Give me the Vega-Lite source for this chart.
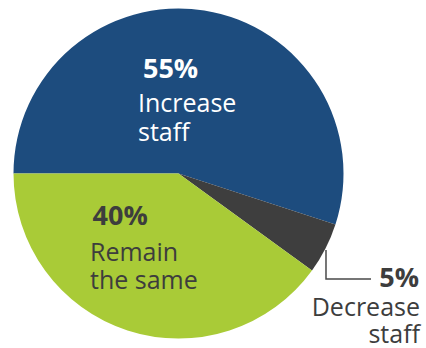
{
  "$schema": "https://vega.github.io/schema/vega-lite/v6.json",
  "width": 357,
  "height": 347,
  "autosize": "none",
  "padding": {"left": 0, "top": 0, "right": 69, "bottom": 1},
  "background": "white",
  "config": {"view": {"stroke": null}},
  "datasets": {
    "slices": [
      {"slice": "Increase staff", "pct": 55, "ord": 1},
      {"slice": "Decrease staff", "pct": 5, "ord": 2},
      {"slice": "Remain the same", "pct": 40, "ord": 3}
    ],
    "labels": [
      {"slice": "Increase staff", "pctText": "55%", "label": "Increase\nstaff", "px": -0.2152, "py": 0.5788, "lx": -0.2455, "ly": 0.3697},
      {"slice": "Remain the same", "pctText": "40%", "label": "Remain\nthe same", "px": -0.5212, "py": -0.3121, "lx": -0.5364, "ly": -0.5273},
      {"slice": "Decrease staff", "pctText": "5%", "label": "Decrease\nstaff", "px": 1.4576, "py": -0.6879, "lx": 1.4636, "ly": -0.8636}
    ],
    "leader": [
      {"i": 1, "x": 0.8939, "y": -0.4636},
      {"i": 2, "x": 0.8939, "y": -0.6394},
      {"i": 3, "x": 1.1667, "y": -0.6394}
    ]
  },
  "layer": [
    {
      "data": {"name": "slices"},
      "mark": {"type": "arc", "outerRadius": 165},
      "encoding": {
        "theta": {"field": "pct", "type": "quantitative", "stack": true, "scale": {"range": [4.712389, 10.995574]}},
        "order": {"field": "ord", "type": "quantitative"},
        "color": {
          "field": "slice", "type": "nominal", "legend": null,
          "scale": {"domain": ["Increase staff", "Decrease staff", "Remain the same"], "range": ["#1d4c7e", "#3e3e3e", "#a9cb37"]}
        }
      }
    },
    {
      "data": {"name": "leader"},
      "mark": {"type": "line", "color": "#4a4a4a", "strokeWidth": 1.5, "strokeCap": "butt", "strokeJoin": "miter"},
      "encoding": {
        "x": {"field": "x", "type": "quantitative", "axis": null, "scale": {"domain": [-1.0818, 1.0818], "nice": false, "zero": false}},
        "y": {"field": "y", "type": "quantitative", "axis": null, "scale": {"domain": [-1.0515, 1.0515], "nice": false, "zero": false}},
        "order": {"field": "i", "type": "quantitative"}
      }
    },
    {
      "data": {"name": "labels"},
      "transform": [{"filter": "datum.slice === 'Increase staff'"}],
      "mark": {"type": "text", "align": "left", "baseline": "alphabetic", "font": "Open Sans", "fontSize": 27, "fontWeight": "bold", "color": "white"},
      "encoding": {
        "x": {"field": "px", "type": "quantitative"},
        "y": {"field": "py", "type": "quantitative"},
        "text": {"field": "pctText"}
      }
    },
    {
      "data": {"name": "labels"},
      "transform": [{"filter": "datum.slice === 'Increase staff'"}],
      "mark": {"type": "text", "align": "left", "baseline": "alphabetic", "font": "Open Sans", "fontSize": 25, "lineBreak": "\n", "lineHeight": 28.5, "color": "white"},
      "encoding": {
        "x": {"field": "lx", "type": "quantitative"},
        "y": {"field": "ly", "type": "quantitative"},
        "text": {"field": "label"}
      }
    },
    {
      "data": {"name": "labels"},
      "transform": [{"filter": "datum.slice === 'Remain the same'"}],
      "mark": {"type": "text", "align": "left", "baseline": "alphabetic", "font": "Open Sans", "fontSize": 27, "fontWeight": "bold", "color": "#3d3d3d"},
      "encoding": {
        "x": {"field": "px", "type": "quantitative"},
        "y": {"field": "py", "type": "quantitative"},
        "text": {"field": "pctText"}
      }
    },
    {
      "data": {"name": "labels"},
      "transform": [{"filter": "datum.slice === 'Remain the same'"}],
      "mark": {"type": "text", "align": "left", "baseline": "alphabetic", "font": "Open Sans", "fontSize": 25, "lineBreak": "\n", "lineHeight": 28.5, "color": "#3d3d3d"},
      "encoding": {
        "x": {"field": "lx", "type": "quantitative"},
        "y": {"field": "ly", "type": "quantitative"},
        "text": {"field": "label"}
      }
    },
    {
      "data": {"name": "labels"},
      "transform": [{"filter": "datum.slice === 'Decrease staff'"}],
      "mark": {"type": "text", "align": "right", "baseline": "alphabetic", "font": "Open Sans", "fontSize": 27, "fontWeight": "bold", "color": "#3d3d3d"},
      "encoding": {
        "x": {"field": "px", "type": "quantitative"},
        "y": {"field": "py", "type": "quantitative"},
        "text": {"field": "pctText"}
      }
    },
    {
      "data": {"name": "labels"},
      "transform": [{"filter": "datum.slice === 'Decrease staff'"}],
      "mark": {"type": "text", "align": "right", "baseline": "alphabetic", "font": "Open Sans", "fontSize": 25, "lineBreak": "\n", "lineHeight": 27, "color": "#3d3d3d"},
      "encoding": {
        "x": {"field": "lx", "type": "quantitative"},
        "y": {"field": "ly", "type": "quantitative"},
        "text": {"field": "label"}
      }
    }
  ]
}
